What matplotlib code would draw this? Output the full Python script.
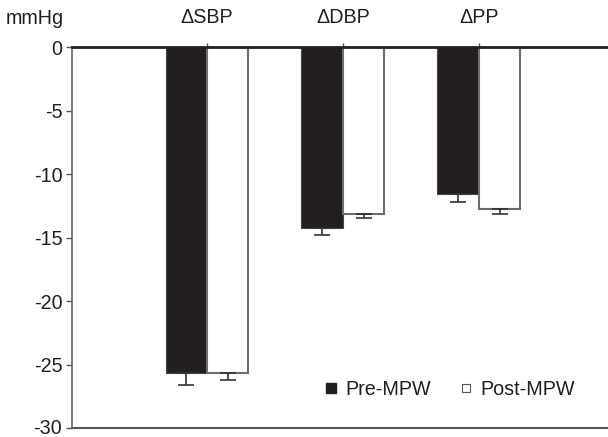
import matplotlib
matplotlib.use("Agg")
import matplotlib.pyplot as plt
from matplotlib.lines import Line2D
from matplotlib.transforms import ScaledTranslation
import numpy as np

plt.rcParams['font.family'] = ['Liberation Sans', 'DejaVu Sans']

categories = ["ΔSBP", "ΔDBP", "ΔPP"]
pre_values = [-25.7, -14.2, -11.55]
pre_err = [0.9, 0.55, 0.6]
post_values = [-25.7, -13.1, -12.7]
post_err = [0.5, 0.35, 0.4]
yticks = [0, -5, -10, -15, -20, -25, -30]

FS = 14.2
fig = plt.figure(figsize=(6.08, 4.37), dpi=100)
ax = fig.add_axes([72/608, 9/437, 1 - 72/608, (428 - 47.5)/437])

x = np.arange(len(categories))
w = 0.305
dark = "#231f20"
ax.bar(x - w/2, pre_values, w, color=dark, edgecolor="#444444", linewidth=0.8, zorder=2)
ax.bar(x + w/2, post_values, w, color="white", edgecolor="#6d6d6d", linewidth=1.5, zorder=2)
ax.errorbar(x - w/2, pre_values, yerr=[[e for e in pre_err], [0]*3], fmt="none",
            ecolor="#333333", elinewidth=1.2, capsize=6, capthick=1.2, zorder=3)
ax.errorbar(x + w/2, post_values, yerr=[[e for e in post_err], [0]*3], fmt="none",
            ecolor="#333333", elinewidth=1.2, capsize=6, capthick=1.2, zorder=3)

ax.set_xlim(-0.993, 2.95)
ax.set_ylim(-30, 0)
ax.set_yticks(yticks)
ax.set_yticklabels([str(v) for v in yticks], fontsize=FS, color="#231f20")
ax.tick_params(axis="y", direction="out", length=4, width=1, color="#555555", pad=3)
# nudge the bottom label up slightly so it stays inside the figure
last = ax.get_yticklabels()[-1]
last.set_transform(last.get_transform() + ScaledTranslation(0, 2/100, fig.dpi_scale_trans))

ax.xaxis.tick_top()
ax.set_xticks(x)
ax.set_xticklabels(categories, fontsize=FS, color="#231f20")
ax.tick_params(axis="x", direction="out", length=3, width=1, color="#555555", pad=12)

ax.spines["right"].set_visible(False)
ax.spines["top"].set_color("#231f20")
ax.spines["top"].set_linewidth(2)
ax.spines["top"].set_zorder(4)
ax.spines["left"].set_color("#666666")
ax.spines["left"].set_linewidth(1.2)
ax.spines["bottom"].set_color("#555555")
ax.spines["bottom"].set_linewidth(1.5)

fig.text(6/608, 1 - 19/437, "mmHg", fontsize=FS, color="#231f20", va="center", ha="left")

handles = [
    Line2D([], [], marker="s", linestyle="none", markersize=6.5, markerfacecolor=dark, markeredgecolor=dark),
    Line2D([], [], marker="s", linestyle="none", markersize=5.5, markerfacecolor="white", markeredgecolor="#555555", markeredgewidth=0.8),
]
ax.legend(handles, ["Pre-MPW", "Post-MPW"], loc="lower right", bbox_to_anchor=(0.972, 0.03),
          ncol=2, frameon=False, fontsize=FS, handlelength=0.5, handletextpad=0.5,
          columnspacing=1.5, labelcolor="#231f20")

fig.savefig("out.png", dpi=100)
